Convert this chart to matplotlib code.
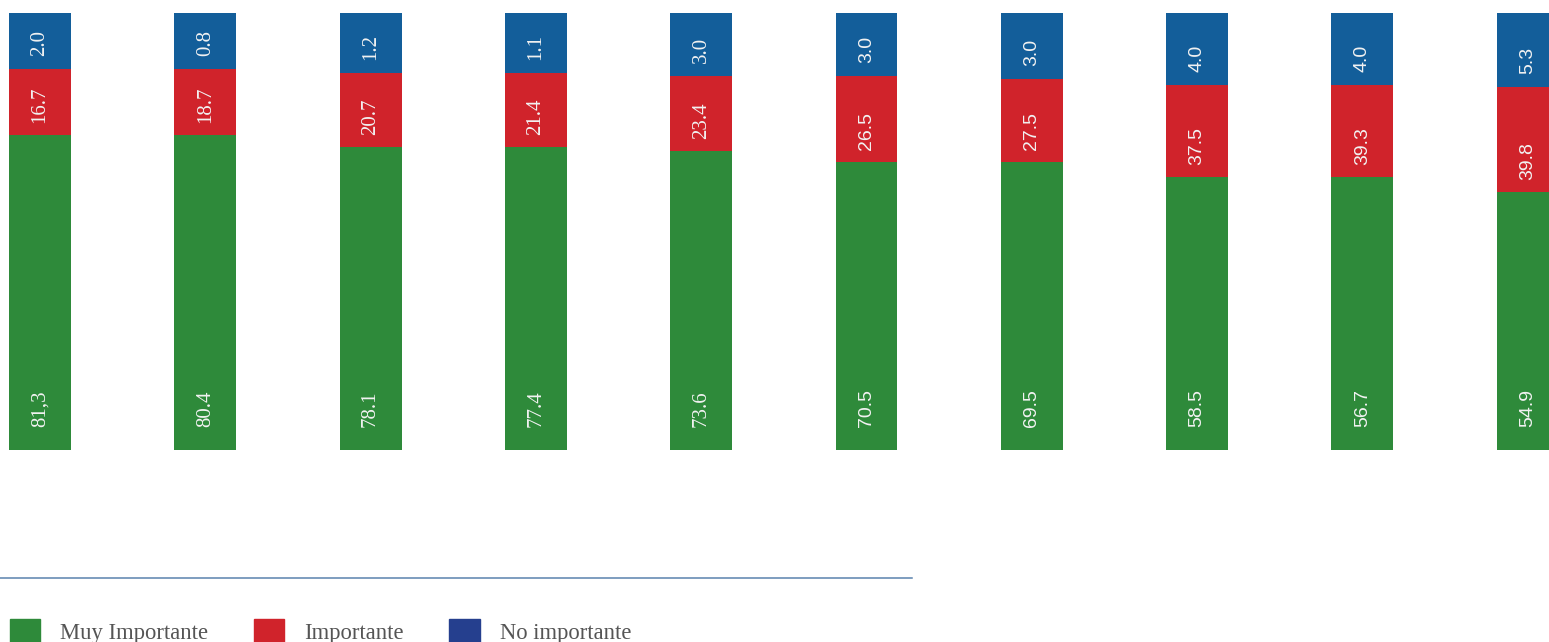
import numpy as np
import matplotlib.pyplot as plt
from matplotlib.lines import Line2D
from matplotlib.patches import Patch

# Printed values (as they appear on the bars)
muy_labels = ["81,3", "80.4", "78.1", "77.4", "73.6", "70.5", "69.5", "58.5", "56.7", "54.9"]
imp_labels = ["16.7", "18.7", "20.7", "21.4", "23.4", "26.5", "27.5", "37.5", "39.3", "39.8"]
no_labels = ["2.0", "0.8", "1.2", "1.1", "3.0", "3.0", "3.0", "4.0", "4.0", "5.3"]

# Segment shares as drawn in the original (percent of bar height)
muy_drawn = [72.1, 72.1, 69.3, 69.3, 68.4, 65.9, 65.9, 62.4, 62.4, 59.1]
imp_drawn = [15.1, 15.1, 16.9, 16.9, 17.2, 19.7, 19.0, 21.1, 21.1, 24.0]
no_drawn = [12.8, 12.8, 13.7, 13.7, 14.4, 14.4, 15.1, 16.5, 16.5, 16.9]

# first bars use a serif face for their labels, the rest a sans face
label_fonts = ["Liberation Serif"] * 5 + ["Liberation Sans"] * 5

green = "#2e8a3a"
red = "#d0232b"
blue = "#135e9a"
legend_blue = "#253f8e"
label_color = "#f2f2f2"

W, H = 1549, 642
fig = plt.figure(figsize=(W / 100, H / 100), dpi=100)
ax = fig.add_axes([0, 192 / H, 1, 437 / H])

x = np.arange(len(muy_drawn))
width = 0.375
muy = np.array(muy_drawn)
imp = np.array(imp_drawn)
no = np.array(no_drawn)

ax.bar(x, muy, width, color=green)
ax.bar(x, imp, width, bottom=muy, color=red)
ax.bar(x, no, width, bottom=muy + imp, color=blue)

ax.set_xlim((0 - 40) / 165.3, (W - 40) / 165.3)
ax.set_ylim(0, 100)
ax.axis("off")

# value labels, rotated and anchored above the bottom of each segment
for i in x:
    fam = label_fonts[i]
    size = 15 if fam == "Liberation Serif" else 14
    segs = [(0, muy_labels[i], 23),
            (muy[i], imp_labels[i], 12),
            (muy[i] + imp[i], no_labels[i], 13)]
    for base, txt, off in segs:
        ax.annotate(txt, (i, base), xytext=(0, off), textcoords="offset pixels",
                    rotation=90, ha="center", va="bottom",
                    color=label_color, fontsize=size, family=fam)

# separator line above the legend
fig.add_artist(Line2D([0, 912 / W], [64 / H, 64 / H], color="#5a82ad", lw=1.1))

handles = [Patch(color=green, label="Muy Importante"),
           Patch(color=red, label="Importante"),
           Patch(color=legend_blue, label="No importante")]
leg = fig.legend(handles=handles, loc="lower left", ncol=3,
                 bbox_to_anchor=(10 / W, -2 / H), bbox_transform=fig.transFigure,
                 frameon=False, borderpad=0, borderaxespad=0,
                 handlelength=1.33, handleheight=1.33, handletextpad=0.88,
                 columnspacing=2.03,
                 prop={"family": "Liberation Serif", "size": 16.3})
for t in leg.get_texts():
    t.set_color("#555555")

fig.savefig("out.png", dpi=100)
